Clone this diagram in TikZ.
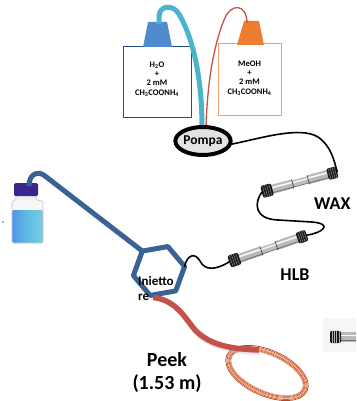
\documentclass[tikz,border=0pt]{standalone}
\usepackage{fontspec}
\setmainfont{Carlito}
\usetikzlibrary{shapes.geometric,calc}
\definecolor{tubeblue}{RGB}{58,98,148}
\definecolor{tubecyan}{RGB}{75,180,202}
\definecolor{tubered}{RGB}{196,82,76}
\definecolor{capblue}{RGB}{80,140,205}
\definecolor{caporange}{RGB}{237,125,49}
\definecolor{boxblue}{RGB}{40,78,125}
\definecolor{boxorange}{RGB}{242,160,108}
\definecolor{coilA}{RGB}{210,95,45}
\definecolor{coilB}{RGB}{232,140,90}
\definecolor{coilC}{RGB}{180,70,35}
\definecolor{vialcap}{RGB}{58,38,145}
\definecolor{liquid}{RGB}{92,190,222}
\tikzset{
  pics/hplc/.style={code={
    \pgfmathsetmacro{\hl}{#1/2}
    \pgfmathsetmacro{\ca}{-\hl+11}
    \pgfmathsetmacro{\cb}{\hl-10}
    % steel body: two wide sleeves and a slimmer middle
    \fill[gray!55] (\ca,-4.6) rectangle (-7,4.6);
    \fill[gray!55] (9,-4.6) rectangle (\cb,4.6);
    \fill[gray!50] (-7,-3.6) rectangle (9,3.6);
    \draw[white,line width=1.6pt,opacity=.9] (\ca,-1.6) -- (-7,-1.6);
    \draw[white,line width=1.6pt,opacity=.9] (9,-1.6) -- (\cb,-1.6);
    \draw[white,line width=1.2pt,opacity=.9] (-7,-1.2) -- (9,-1.2);
    \draw[gray!30!black,line width=.8pt,opacity=.5] (\ca,3.4) -- (\cb,3.4);
    \draw[gray!25!black,line width=.5pt] (-7,-4.6) -- (-7,4.6) (9,-4.6) -- (9,4.6);
    % black end fittings
    \fill[black!90,rounded corners=2pt] (-\hl,-6.2) rectangle (\ca,6.2);
    \fill[black!90,rounded corners=2pt] (\cb,-5.8) rectangle (\hl,5.8);
    \foreach \k in {1,...,4}{
      \draw[gray!60,line width=.3pt] ({-\hl+2.2*\k},-6) -- ({-\hl+2.2*\k},6);
      \draw[gray!60,line width=.3pt] ({\cb+2.1*\k},-5.6) -- ({\cb+2.1*\k},5.6);
    }
    \coordinate (-out) at (-\hl,0);
    \coordinate (-in) at (\hl,0);
  }}
}
\begin{document}
\begin{tikzpicture}[x=1pt,y=-1pt,
  reservoir/.style={draw,line width=1pt,fill=white,minimum width=68pt,
    minimum height=70pt,inner sep=0pt},
  boxtext/.style={align=center,inner sep=0pt,
    font=\fontsize{8.5}{9.3}\selectfont\bfseries},
  collabel/.style={inner sep=0pt,font=\fontsize{18}{20}\selectfont\bfseries},
  wire/.style={line width=1.6pt,black,line cap=round},
  hexline/.style={line width=5pt,tubeblue,line join=round},
  fatline/.style={line width=5pt,line cap=round},
]
\useasboundingbox (0,0) rectangle (356,401);
\clip (0,0) rectangle (356,401);
\fill[white] (0,0) rectangle (356,401);

% eluent reservoirs
\node[reservoir,draw=boxblue] (eluA) at (157,82) {};
\node[boxtext] (eluAtxt) at (157,79)
  {H\textsubscript{2}O\\+\\2 mM\\CH\textsubscript{3}COONH\textsubscript{4}};
\node[reservoir,draw=boxorange,minimum width=63pt,minimum height=71pt] (eluB) at (249.5,79.5) {};
\node[boxtext] (eluBtxt) at (249.5,78)
  {MeOH\\+\\2 mM\\CH\textsubscript{3}COONH\textsubscript{4}};

% bottle caps
\fill[capblue] (143,47) -- (148,22) -- (167,22) -- (172,47) -- cycle;
\fill[caporange] (237,45) -- (244,21) -- (259,21) -- (264,45) -- cycle;
\coordinate (capA) at (159,24);
\coordinate (capB) at (247,23);

% solvent lines to the pump
\coordinate (pumpinA) at (202,128);
\coordinate (pumpinB) at (206,128);
\draw[tubecyan,line width=5pt] (capA) -- (159,17) .. controls (159,5) and (173,4) .. (179,14)
  .. controls (194,40) and (202,80) .. (pumpinA);
\draw[tubered,line width=1.3pt] (capB) .. controls (247,4) and (231,2) .. (224,20)
  .. controls (212,50) and (207,90) .. (pumpinB);

% pump
\node[ellipse,draw,line width=4pt,fill=gray!22,minimum width=52pt,minimum height=28pt,
  inner sep=0pt,font=\fontsize{13.5}{14}\selectfont\bfseries] (pump) at (203,141) {Pompa};

% cartridges
\pic[rotate=15] (wax) at (299.5,182) {hplc=78};
\pic[rotate=19] (hlb) at (268,248.5) {hplc=82};
\fill[gray!7] (323,318) rectangle (356,352);
\pic (spare) at (369,337) {hplc=78};

\node[collabel,anchor=west] (waxlab) at (314,204) {WAX};
\node[collabel] (hlblab) at (295,275) {HLB};

% connecting wires
\draw[wire] (pump.-6) .. controls (262,138) and (300,126) .. (318,137)
  .. controls (331,146) and (334,160) .. (wax-in);
\draw[wire] (wax-out) .. controls (254,203) and (254,219) .. (278,220) -- (312,222)
  .. controls (334,224) and (322,233) .. (hlb-in);

% vial
\fill[gray!12] (16,195) rectangle (36,200);
\fill[gray!6] (12,200) rectangle (43,211);
\shade[left color=liquid!70!blue!90,right color=liquid!80!white,middle color=liquid,
  rounded corners=1.5pt] (12,210) rectangle (43,243);
\draw[gray!45,line width=.6pt,rounded corners=1.5pt] (16,195) -- (16,200) -- (12,201) -- (12,243)
  -- (43,243) -- (43,201) -- (36,200) -- (36,195);
\fill[vialcap,rounded corners=1.5pt] (14,183) rectangle (38,196);
\fill[tubeblue] (3,222) circle (0.9);
\coordinate (vial) at (29,186);

% injector
\coordinate (inj) at (159,271);
\foreach \i in {0,...,5}
  \coordinate (inj-\i) at ($(inj)+(-10-60*\i:26)$);
\draw[hexline] (inj-0) -- (inj-1) -- (inj-2) -- (inj-3) -- (inj-4) -- (inj-5) -- cycle;
\draw[fatline,tubeblue,line cap=butt] (inj-2) -- (45,176) .. controls (38,170) and (29,174) .. (vial);
\draw[wire] (inj-0) .. controls (187,255) and (195,252) .. (200,261)
  .. controls (205,271) and (216,270) .. (hlb-out);

% sample loop (coil)
\coordinate (coil) at (267,373);
\foreach \r/\c/\w in {0/coilC/.7, 1.2/coilA/.8, 2.4/coilB/.6, 3.4/coilA/.7, 4.4/coilC/.5, 5.2/coilB/.6}
  \draw[\c,line width=\w pt,rotate around={-24:(coil)}] (coil) ellipse [x radius=44-\r, y radius=23-\r];
\coordinate (coilin) at (259,350);

% peek tubing
\draw[gray!50,line width=4pt,opacity=.4] (197,334) .. controls (212,348) and (232,352) .. (259,353);
\draw[tubered,line width=5.5pt] ($(inj-4)+(3,2)$) .. controls (176,300) and (185,318) .. (195,330)
  .. controls (210,345) and (230,349) .. (coilin);

% labels
\node[inner sep=0pt,anchor=west,align=left,font=\fontsize{13}{15}\selectfont\bfseries]
  (injlab) at (138,288) {Inietto\\re};
\node[inner sep=0pt,align=center,font=\fontsize{20}{23}\selectfont\bfseries]
  (peeklab) at (167,372) {Peek\\(1.53 m)};
\end{tikzpicture}
\end{document}
